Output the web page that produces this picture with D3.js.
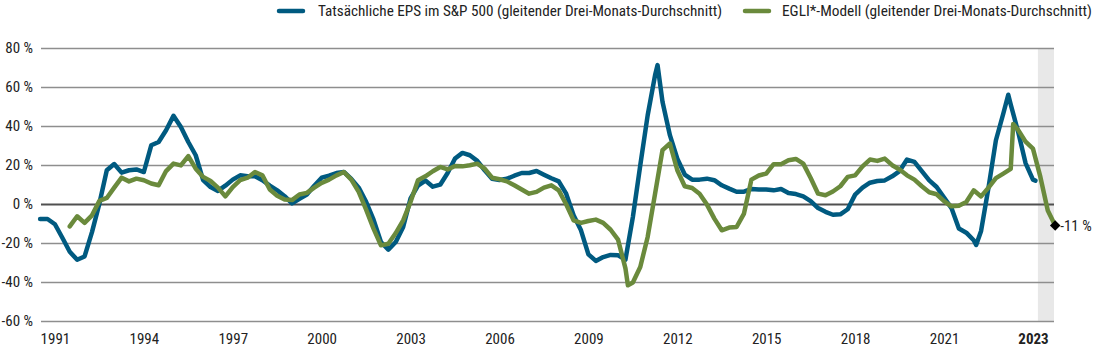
<!DOCTYPE html>
<html>
<head>
<meta charset="utf-8">
<script src="https://cdn.jsdelivr.net/npm/d3@7"></script>
<style>
  body { margin: 0; background: #fff; }
  svg text { font-family: "Liberation Sans Narrow", "Roboto Condensed", "Arial Narrow", sans-serif; fill: #222; }
</style>
</head>
<body>
<div id="vis"></div>
<script>
// y axis ticks (percent)
var yTicks = [80, 60, 40, 20, 0, -20, -40, -60];

// x axis labels and where they sit (decimal year)
var xTickLabels = ['1991', '1994', '1997', '2000', '2003', '2006', '2009', '2012', '2015', '2018', '2021', '2023'];
var xTickPos = [1991, 1994, 1997, 2000, 2003, 2006, 2009, 2012, 2015, 2018, 2021, 2024];

var seriesNames = [
    'Tatsächliche EPS im S&P 500 (gleitender Drei-Monats-Durchschnitt)',
    'EGLI*-Modell (gleitender Drei-Monats-Durchschnitt)'
];

// shaded forecast period
var forecastStart = '2024-03';
var forecastEnd = '2024-10';

var lastLabel = '-11 %';

// actual S&P 500 EPS growth, % yoy
var epsActual = [
    ['1990-07', -7.7], ['1990-10', -7.7], ['1991-01', -10.4], ['1991-04', -17.3], ['1991-07', -24.5],
    ['1991-10', -28.6], ['1992-01', -26.9], ['1992-04', -14.4], ['1992-07', 0.2], ['1992-10', 17.3],
    ['1993-01', 20.5], ['1993-04', 16.1], ['1993-07', 17.3], ['1993-10', 17.7], ['1994-01', 16.4],
    ['1994-04', 30.1], ['1994-07', 31.8], ['1994-10', 37.8], ['1995-01', 45.2], ['1995-04', 39.5],
    ['1995-07', 31.8], ['1995-10', 25.0], ['1996-01', 12.2], ['1996-04', 8.7], ['1996-07', 6.7],
    ['1996-10', 9.4], ['1997-01', 12.5], ['1997-04', 14.7], ['1997-07', 14.2], ['1997-10', 14.2],
    ['1998-01', 12.2], ['1998-04', 9.4], ['1998-07', 7.0], ['1998-10', 4.0], ['1999-01', 0.3],
    ['1999-04', 2.7], ['1999-07', 4.9], ['1999-10', 9.4], ['2000-01', 13.5], ['2000-04', 14.5],
    ['2000-07', 15.9], ['2000-10', 16.4], ['2001-01', 12.9], ['2001-04', 8.4], ['2001-07', 1.1],
    ['2001-10', -8.0], ['2002-01', -19.5], ['2002-04', -23.4], ['2002-07', -19.5], ['2002-10', -11.8],
    ['2003-01', 2.9], ['2003-04', 9.4], ['2003-07', 12.0], ['2003-10', 8.9], ['2004-01', 9.9],
    ['2004-04', 15.9], ['2004-07', 23.3], ['2004-10', 26.2], ['2005-01', 25.0], ['2005-04', 22.1],
    ['2005-07', 17.3], ['2005-10', 12.9], ['2006-01', 12.3], ['2006-04', 12.9], ['2006-07', 14.5],
    ['2006-10', 15.9], ['2007-01', 15.9], ['2007-04', 16.9], ['2007-07', 15.0], ['2007-10', 13.2],
    ['2008-01', 11.6], ['2008-04', 5.3], ['2008-07', -5.8], ['2008-10', -13.5], ['2009-01', -25.8],
    ['2009-04', -29.2], ['2009-07', -27.2], ['2009-10', -26.1], ['2010-01', -26.3], ['2010-04', -28.5],
    ['2010-07', -6.7], ['2010-10', 19.8], ['2011-01', 45.5], ['2011-04', 66.1], ['2011-05', 71.2],
    ['2011-07', 52.4], ['2011-10', 35.3], ['2012-01', 23.2], ['2012-04', 15.1], ['2012-07', 12.5],
    ['2012-10', 12.5], ['2013-01', 13.0], ['2013-04', 12.2], ['2013-07', 9.6], ['2013-10', 7.9],
    ['2014-01', 6.3], ['2014-04', 6.3], ['2014-07', 7.7], ['2014-10', 7.4], ['2015-01', 7.4],
    ['2015-04', 7.0], ['2015-07', 7.7], ['2015-10', 5.6], ['2016-01', 5.1], ['2016-04', 3.9],
    ['2016-07', 1.5], ['2016-10', -2.1], ['2017-01', -4.0], ['2017-04', -5.5], ['2017-07', -5.3],
    ['2017-10', -2.7], ['2018-01', 4.8], ['2018-04', 8.4], ['2018-07', 10.9], ['2018-10', 11.8],
    ['2019-01', 12.1], ['2019-04', 14.2], ['2019-07', 16.9], ['2019-10', 22.8], ['2020-01', 21.6],
    ['2020-04', 16.9], ['2020-07', 12.1], ['2020-10', 8.7], ['2021-01', 3.3], ['2021-04', -2.1],
    ['2021-07', -12.6], ['2021-10', -14.7], ['2022-01', -18.6], ['2022-02', -21.0], ['2022-04', -13.8],
    ['2022-07', 8.4], ['2022-10', 32.7], ['2023-01', 46.4], ['2023-03', 56.0], ['2023-04', 51.0],
    ['2023-07', 37.0], ['2023-10', 21.0], ['2024-01', 12.5], ['2024-02', 12.0]
];

// EGLI model, % yoy
var egliModel = [
    ['1991-07', -11.5], ['1991-10', -6.3], ['1992-01', -9.7], ['1992-04', -5.8], ['1992-07', 1.6],
    ['1992-10', 3.1], ['1993-01', 8.4], ['1993-04', 13.5], ['1993-07', 11.6], ['1993-10', 13.0],
    ['1994-01', 12.2], ['1994-04', 10.5], ['1994-07', 9.6], ['1994-10', 16.9], ['1995-01', 20.7],
    ['1995-04', 19.8], ['1995-07', 24.6], ['1995-10', 18.1], ['1996-01', 13.9], ['1996-04', 11.8],
    ['1996-07', 8.4], ['1996-10', 3.9], ['1997-01', 8.7], ['1997-04', 12.2], ['1997-07', 13.5],
    ['1997-10', 16.4], ['1998-01', 14.7], ['1998-04', 7.4], ['1998-07', 4.2], ['1998-10', 2.3],
    ['1999-01', 2.0], ['1999-04', 4.9], ['1999-07', 5.7], ['1999-10', 8.4], ['2000-01', 10.8],
    ['2000-04', 12.5], ['2000-07', 14.7], ['2000-10', 16.4], ['2001-01', 12.5], ['2001-04', 6.2],
    ['2001-07', -2.9], ['2001-10', -12.6], ['2002-01', -21.2], ['2002-04', -20.4], ['2002-07', -14.9],
    ['2002-10', -8.4], ['2003-01', 1.1], ['2003-04', 12.2], ['2003-07', 14.2], ['2003-10', 16.8],
    ['2004-01', 19.0], ['2004-04', 17.7], ['2004-07', 19.5], ['2004-10', 19.3], ['2005-01', 19.9],
    ['2005-04', 20.7], ['2005-07', 18.1], ['2005-10', 13.5], ['2006-01', 12.7], ['2006-04', 11.6],
    ['2006-07', 9.6], ['2006-10', 7.4], ['2007-01', 5.3], ['2007-04', 6.2], ['2007-07', 8.4],
    ['2007-10', 9.6], ['2008-01', 7.0], ['2008-04', -0.1], ['2008-07', -8.4], ['2008-10', -9.7],
    ['2009-01', -8.7], ['2009-04', -8.0], ['2009-07', -9.7], ['2009-10', -13.2], ['2010-01', -18.3],
    ['2010-04', -33.0], ['2010-05', -41.7], ['2010-07', -40.3], ['2010-10', -32.3], ['2011-01', -16.9],
    ['2011-04', 5.3], ['2011-07', 27.6], ['2011-10', 31.0], ['2012-01', 17.3], ['2012-04', 9.1],
    ['2012-07', 8.2], ['2012-10', 5.3], ['2013-01', -0.3], ['2013-04', -7.5], ['2013-07', -13.5],
    ['2013-10', -12.1], ['2014-01', -11.8], ['2014-04', -4.9], ['2014-07', 12.5], ['2014-10', 14.6],
    ['2015-01', 15.6], ['2015-04', 20.4], ['2015-07', 20.4], ['2015-10', 22.4], ['2016-01', 23.1],
    ['2016-04', 20.7], ['2016-07', 13.3], ['2016-10', 5.3], ['2017-01', 4.5], ['2017-04', 6.4],
    ['2017-07', 9.1], ['2017-10', 13.9], ['2018-01', 14.7], ['2018-04', 19.3], ['2018-07', 22.8],
    ['2018-10', 22.1], ['2019-01', 23.3], ['2019-04', 19.9], ['2019-07', 17.7], ['2019-10', 14.7],
    ['2020-01', 12.5], ['2020-04', 9.1], ['2020-07', 6.0], ['2020-10', 5.0], ['2021-01', 1.5],
    ['2021-04', -1.2], ['2021-07', -0.9], ['2021-10', 1.0], ['2022-01', 7.0], ['2022-04', 3.9],
    ['2022-07', 8.4], ['2022-10', 13.3], ['2023-01', 15.6], ['2023-04', 18.0], ['2023-05', 41.0],
    ['2023-07', 38.0], ['2023-10', 32.0], ['2024-01', 28.4], ['2024-04', 13.9], ['2024-07', -3.3],
    ['2024-10', -11.0]
];

var colors = ['#005a80', '#6a8a3c'];

var width = 1095, height = 358;
var margin = { left: 41, right: 41, top: 48, bottom: 37 };
var drawWidth = width - margin.left - margin.right,
    drawHeight = height - margin.top - margin.bottom;

// month string -> decimal year
var toYear = (s) => { var p = s.split('-'); return +p[0] + (+p[1] - 1) / 12; };

var svg = d3.select('#vis').append('svg')
            .attr('width', width)
            .attr('height', height);

var xScale = d3.scaleLinear()
               .domain([1990.53, 2024.71])
               .range([margin.left, margin.left + drawWidth]);

var yScale = d3.scaleLinear()
               .domain([-60, 80])
               .range([margin.top + drawHeight, margin.top]);

// forecast band
svg.append('rect')
   .attr('x', xScale(toYear(forecastStart)))
   .attr('y', yScale(80))
   .attr('width', xScale.range()[1] - xScale(toYear(forecastStart)))
   .attr('height', yScale(-60) - yScale(80))
   .attr('fill', '#e8e8e8');

// y grid + labels
var yAxis = d3.axisLeft(yScale)
              .tickValues(yTicks)
              .tickSize(-drawWidth)
              .tickPadding(8)
              .tickFormat((d) => d + ' %');

var yAxisG = svg.append('g')
                .attr('transform', `translate(${margin.left},0)`)
                .call(yAxis);
yAxisG.select('.domain').remove();
yAxisG.selectAll('line')
      .attr('stroke', (d) => d === 0 ? '#505050' : '#8e8e8e')
      .attr('stroke-width', (d) => d === 0 ? 2 : 1.5);
yAxisG.selectAll('text')
      .attr('font-size', 15)
      .attr('fill', '#222');

// x labels
var xAxis = d3.axisBottom(xScale)
              .tickValues(xTickPos)
              .tickSize(0)
              .tickPadding(0)
              .tickFormat((d, i) => xTickLabels[i]);

var xAxisG = svg.append('g')
                .attr('transform', `translate(0,${margin.top + drawHeight + 10})`)
                .call(xAxis);
xAxisG.select('.domain').remove();
xAxisG.selectAll('text')
      .attr('font-size', 15)
      .attr('dy', '0.85em')
      .attr('fill', '#222')
      .attr('font-weight', (d, i) => i === xTickLabels.length - 1 ? 'bold' : null);

// lines
var line = d3.line()
             .x((d) => xScale(toYear(d[0])))
             .y((d) => yScale(d[1]))
             .curve(d3.curveLinear);

[epsActual, egliModel].forEach((data, i) => {
    svg.append('path')
       .datum(data)
       .attr('d', line)
       .attr('fill', 'none')
       .attr('stroke', colors[i])
       .attr('stroke-width', 4.5)
       .attr('stroke-linejoin', 'round')
       .attr('stroke-linecap', 'round');
});

// end marker on model
var last = egliModel[egliModel.length - 1];
var lx = xScale(toYear(last[0])), ly = yScale(last[1]);
svg.append('path')
   .attr('d', d3.symbol().type(d3.symbolDiamond2).size(70))
   .attr('transform', `translate(${lx},${ly})`)
   .attr('fill', '#000');
svg.append('text')
   .attr('x', lx + 5)
   .attr('y', ly)
   .attr('dy', '0.35em')
   .attr('font-size', 15)
   .text(lastLabel);

// legend
var legendItems = [
    { x: 277, tx: 318, w: 404 },
    { x: 743, tx: 782, w: 310 }
];
legendItems.forEach((it, i) => {
    svg.append('line')
       .attr('x1', it.x + 2).attr('x2', it.x + 26)
       .attr('y1', 11).attr('y2', 11)
       .attr('stroke', colors[i])
       .attr('stroke-width', 4.5)
       .attr('stroke-linecap', 'round');
    svg.append('text')
       .attr('x', it.tx)
       .attr('y', 16)
       .attr('font-size', 15)
       .attr('fill', '#333')
       .attr('textLength', it.w)
       .attr('lengthAdjust', 'spacingAndGlyphs')
       .text(seriesNames[i]);
});
</script>
</body>
</html>
